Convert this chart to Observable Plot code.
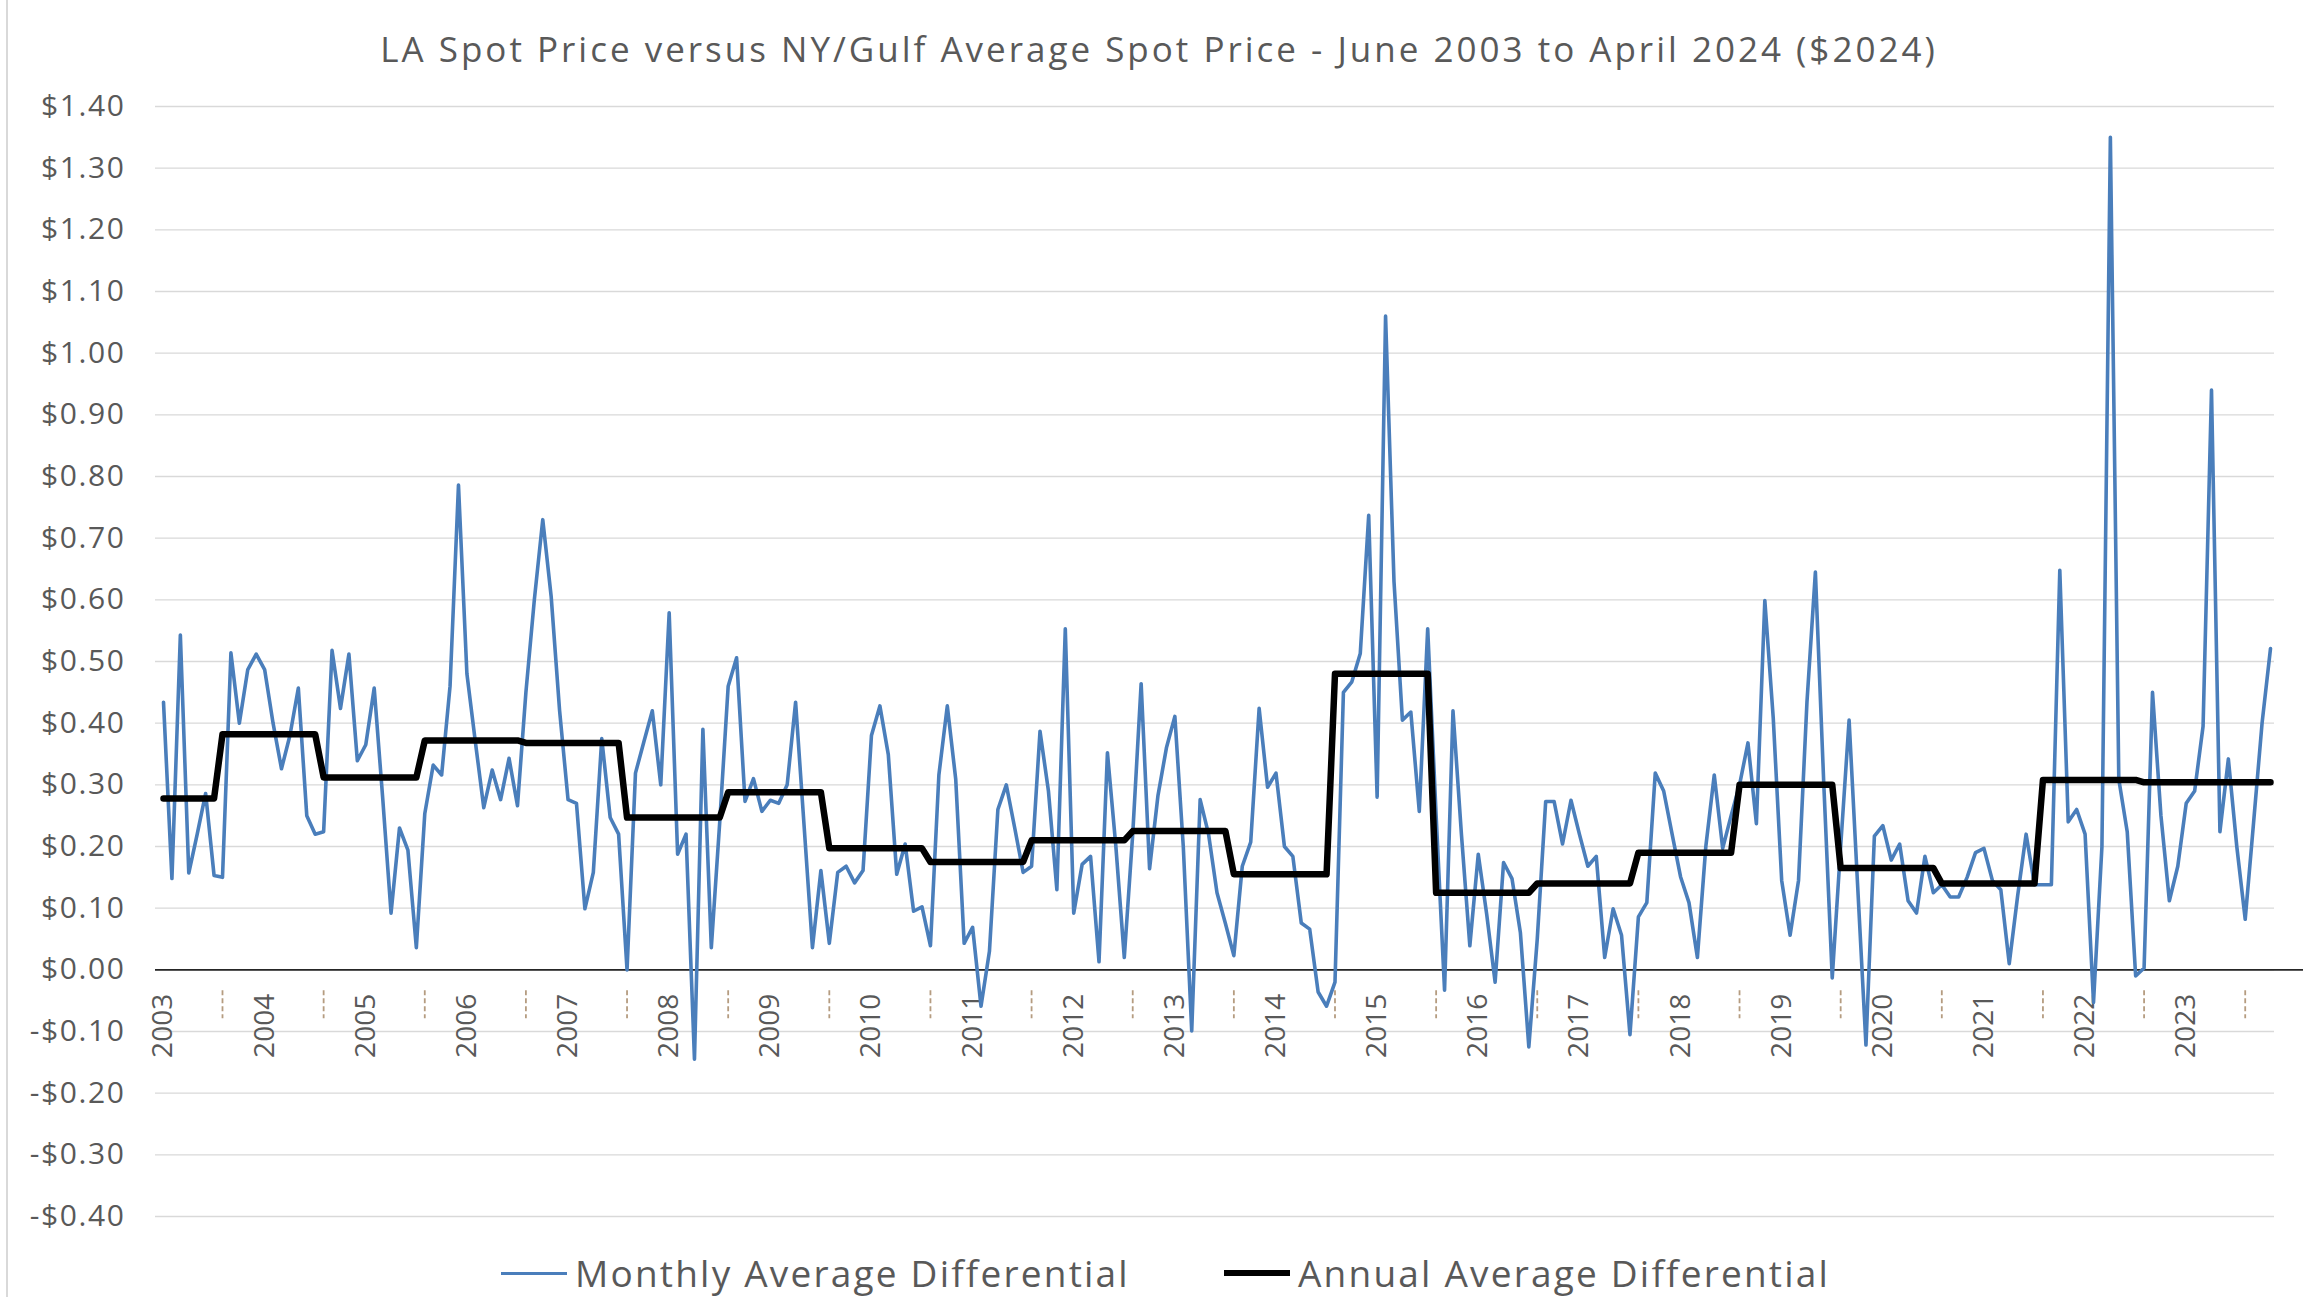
<!DOCTYPE html>
<html>
<head>
<meta charset="utf-8">
<script src="https://cdn.jsdelivr.net/npm/d3@7"></script>
<script src="https://cdn.jsdelivr.net/npm/@observablehq/plot@0.6"></script>
<style>
  html, body { margin: 0; padding: 0; background: #ffffff; }
  #wrap { position: relative; width: 2323px; height: 1297px; overflow: hidden; background: #fff;
          font-family: "Open Sans", "Noto Sans", sans-serif; color: #595959; }
  #border { position: absolute; left: 6px; top: 0; width: 2px; height: 1297px; background: #d9d9d9; }
  #title { position: absolute; left: 0; top: 26px; width: 2318px; text-align: center;
           font-size: 35px; letter-spacing: 3px; line-height: 46px; white-space: nowrap; }
  #plot { position: absolute; left: 0; top: 80px; }
  #legend { position: absolute; top: 1250px; left: 0; width: 2323px; height: 46px; }
  .item { position: absolute; top: 0; height: 46px; display: flex; align-items: center;
          font-size: 37px; letter-spacing: 2.2px; line-height: 46px; white-space: nowrap; }
  .swatch { display: inline-block; width: 66px; margin-right: 8px; }
  #plot g[aria-label="y-axis tick label"] text { letter-spacing: 1.6px; }
</style>
</head>
<body>
<div id="wrap">
  <div id="border"></div>
  <div id="title">LA Spot Price versus NY/Gulf Average Spot Price - June 2003 to April 2024 ($2024)</div>
  <div id="plot"></div>
  <div id="legend">
    <div class="item" style="left:501px"><span class="swatch" style="height:3px;background:#4a7ebb"></span>Monthly Average Differential</div>
    <div class="item" style="left:1224px"><span class="swatch" style="height:6px;background:#000"></span>Annual Average Differential</div>
  </div>
</div>
<script>
// ---- data ----
const startYear = 2003;
const startMonth = 6; // June 2003, monthly through April 2024

const monthlyDiff = [
  // 2003 Jun-Dec
  0.434, 0.148, 0.543, 0.157, 0.22, 0.286, 0.153,
  // 2004
  0.15, 0.514, 0.40, 0.487, 0.512, 0.487, 0.40, 0.326, 0.38, 0.457, 0.25, 0.22,
  // 2005
  0.224, 0.518, 0.424, 0.512, 0.339, 0.365, 0.457, 0.28, 0.092, 0.23, 0.194, 0.036,
  // 2006
  0.253, 0.332, 0.316, 0.46, 0.786, 0.48, 0.37, 0.263, 0.324, 0.276, 0.343, 0.266,
  // 2007
  0.45, 0.60, 0.73, 0.605, 0.42, 0.276, 0.27, 0.099, 0.158, 0.375, 0.247, 0.22,
  // 2008
  0.0, 0.319, 0.37, 0.42, 0.30, 0.579, 0.1875, 0.22, -0.145, 0.39, 0.036, 0.24,
  // 2009
  0.46, 0.506, 0.273, 0.31, 0.257, 0.275, 0.27, 0.30, 0.434, 0.235, 0.036, 0.161,
  // 2010
  0.043, 0.158, 0.168, 0.141, 0.161, 0.38, 0.428, 0.349, 0.155, 0.204, 0.095, 0.102,
  // 2011
  0.039, 0.316, 0.428, 0.309, 0.043, 0.069, -0.059, 0.03, 0.26, 0.30, 0.23, 0.158,
  // 2012
  0.168, 0.387, 0.29, 0.13, 0.553, 0.092, 0.171, 0.184, 0.013, 0.352, 0.2, 0.02,
  // 2013
  0.22, 0.464, 0.164, 0.283, 0.36, 0.411, 0.2, -0.099, 0.276, 0.22, 0.125, 0.075,
  // 2014
  0.023, 0.168, 0.207, 0.424, 0.296, 0.319, 0.2, 0.184, 0.076, 0.066, -0.036, -0.059,
  // 2015
  -0.02, 0.45, 0.467, 0.513, 0.737, 0.28, 1.06, 0.63, 0.405, 0.418, 0.257, 0.553,
  // 2016
  0.25, -0.033, 0.42, 0.22, 0.039, 0.1875, 0.09, -0.02, 0.174, 0.148, 0.06, -0.125,
  // 2017
  0.05, 0.273, 0.273, 0.204, 0.275, 0.22, 0.168, 0.184, 0.02, 0.099, 0.056, -0.105,
  // 2018
  0.086, 0.109, 0.319, 0.29, 0.22, 0.151, 0.109, 0.02, 0.2, 0.316, 0.197, 0.25,
  // 2019
  0.30, 0.368, 0.237, 0.599, 0.408, 0.145, 0.056, 0.145, 0.434, 0.645, 0.3, -0.013,
  // 2020
  0.2, 0.405, 0.14, -0.122, 0.217, 0.234, 0.178, 0.204, 0.112, 0.092, 0.184, 0.125,
  // 2021
  0.138, 0.118, 0.118, 0.15, 0.19, 0.197, 0.145, 0.13, 0.01, 0.12, 0.22, 0.138,
  // 2022
  0.138, 0.138, 0.648, 0.24, 0.26, 0.22, -0.053, 0.2, 1.35, 0.309, 0.224, -0.01,
  // 2023
  0.003, 0.45, 0.25, 0.112, 0.168, 0.27, 0.29, 0.395, 0.94, 0.224, 0.342, 0.2,
  // 2024 Jan-Apr
  0.082, 0.24, 0.40, 0.521
];

const annualYears = [2003, 2004, 2005, 2006, 2007, 2008, 2009, 2010, 2011, 2012, 2013,
                     2014, 2015, 2016, 2017, 2018, 2019, 2020, 2021, 2022, 2023, 2024];
const annualDiff  = [0.278, 0.382, 0.312, 0.372, 0.368, 0.247, 0.288, 0.197, 0.175, 0.21, 0.225,
                     0.155, 0.48, 0.125, 0.14, 0.19, 0.30, 0.165, 0.14, 0.308, 0.304, 0.304];

const yTicks = [-0.4, -0.3, -0.2, -0.1, 0, 0.1, 0.2, 0.3, 0.4, 0.5, 0.6, 0.7, 0.8, 0.9, 1.0, 1.1, 1.2, 1.3, 1.4];
const yearLabels = [2003, 2004, 2005, 2006, 2007, 2008, 2009, 2010, 2011, 2012, 2013,
                    2014, 2015, 2016, 2017, 2018, 2019, 2020, 2021, 2022, 2023];

// ---- derived tables ----
const rows = monthlyDiff.map((v, i) => {
  const m0 = startMonth - 1 + i;
  const year = startYear + Math.floor(m0 / 12);
  const month = (m0 % 12) + 1;
  return { i, year, month, monthly: v, annual: annualDiff[annualYears.indexOf(year)] };
});
const labelRows = rows.filter(d => d.month === 6 && yearLabels.includes(d.year));
const janRows = rows.filter(d => d.month === 1);

const fmt = d => (d < 0 ? "-$" : "$") + Math.abs(d).toFixed(2);
const textColor = "#595959";

const chart = Plot.plot({
  width: 2323,
  height: 1160,
  marginLeft: 155,
  marginRight: 49,
  marginTop: 26,
  marginBottom: 24,
  style: { fontFamily: '"Open Sans", "Noto Sans", sans-serif', background: "transparent", overflow: "visible" },
  x: { type: "linear", domain: [0, monthlyDiff.length - 1], insetLeft: 8, insetRight: 4, axis: null },
  y: { domain: [-0.4, 1.4] },
  marks: [
    Plot.gridY(yTicks, { stroke: "#d9d9d9", strokeOpacity: 1, strokeWidth: 1.4 }),
    Plot.axisY(yTicks, { tickFormat: fmt, tickSize: 0, tickPadding: 30, fontSize: 30, fill: textColor, label: null }),
    Plot.ruleY([0], { stroke: "#262626", strokeWidth: 1.8, insetRight: -29 }),
    Plot.ruleX(janRows, { x: "i", y1: 0, y2: 0, insetTop: 21, insetBottom: -49,
                          stroke: "#b59c80", strokeWidth: 1.8, strokeDasharray: "5,3" }),
    Plot.text(labelRows, { x: "i", y: 0, text: d => String(d.year), rotate: -90, textAnchor: "end",
                           lineAnchor: "middle", dy: 24, fontSize: 28, fill: textColor }),
    Plot.line(rows, { x: "i", y: "monthly", stroke: "#4a7ebb", strokeWidth: 3.6, strokeLinejoin: "round" }),
    Plot.line(rows, { x: "i", y: "annual", stroke: "#000000", strokeWidth: 6.5, strokeLinejoin: "round" })
  ]
});
document.getElementById("plot").appendChild(chart);
</script>
</body>
</html>
